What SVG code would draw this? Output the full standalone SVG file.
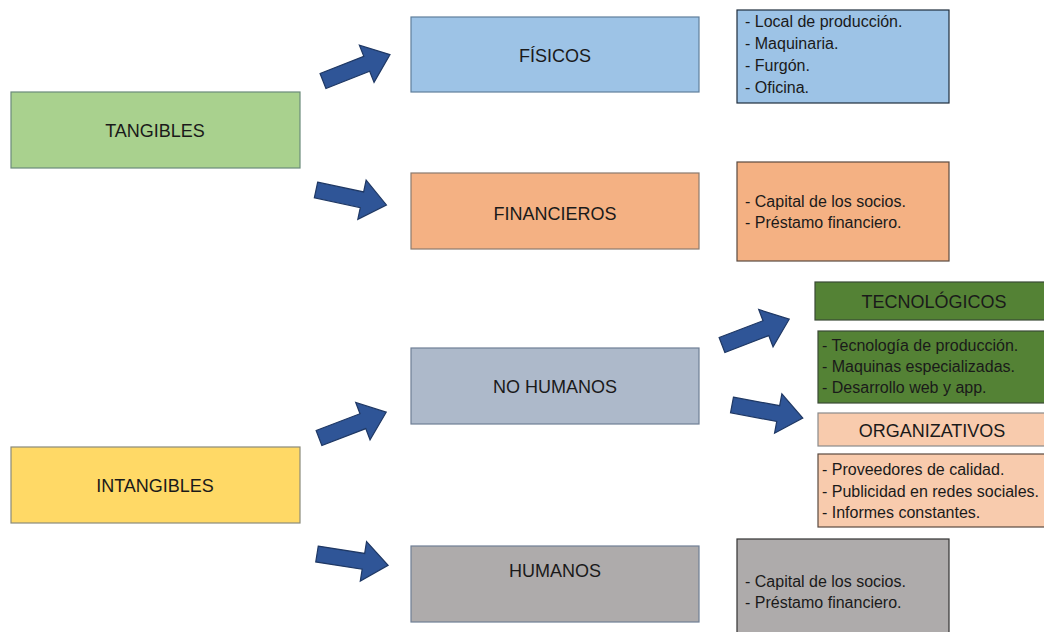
<svg xmlns="http://www.w3.org/2000/svg" width="1044" height="632" viewBox="0 0 1044 632">
<defs>
<style>
.t{font-family:"Liberation Sans",Arial,sans-serif;font-size:18px;fill:#1a1a1a;text-anchor:middle}
.d{font-family:"Liberation Sans",Arial,sans-serif;font-size:16px;fill:#1a1a1a}
.big{font-size:18px}
.box{stroke-width:1.2}
.arrow{fill:#2F5597;stroke:#1F3864;stroke-width:1.2;stroke-linejoin:miter}
</style>
<polygon id="arr" points="0,-8 47,-8 47,-20 72,0 47,20 47,8 0,8"/>
</defs>
<rect width="1044" height="632" fill="#ffffff"/>
<g id="tangibles"><rect class="box" x="11" y="92" width="289" height="76" fill="#A9D18E" stroke="#6b8a7a"/><text class="t" x="155" y="137">TANGIBLES</text></g>
<g id="intangibles"><rect class="box" x="11" y="447" width="289" height="76" fill="#FFD966" stroke="#8a8a7a"/><text class="t" x="155" y="492">INTANGIBLES</text></g>
<g id="fisicos"><rect class="box" x="411" y="17" width="288" height="75" fill="#9DC3E6" stroke="#5f7f9c"/><text class="t" x="555" y="62">FÍSICOS</text></g>
<g id="financieros"><rect class="box" x="411" y="173" width="288" height="76" fill="#F4B183" stroke="#8a7a6e"/><text class="t" x="555" y="220">FINANCIEROS</text></g>
<g id="nohumanos"><rect class="box" x="411" y="348" width="288" height="76" fill="#ADB9CA" stroke="#6f7f95"/><text class="t" x="555" y="393">NO HUMANOS</text></g>
<g id="humanos"><rect class="box" x="411" y="546" width="288" height="76" fill="#AEABAB" stroke="#6f7f95"/><text class="t" x="555" y="577">HUMANOS</text></g>
<g id="fisicos-detalle"><rect class="box" x="737" y="10" width="212" height="93" fill="#9DC3E6" stroke="#1f2d3d"/>
<text class="d" x="745" y="27">- Local de producción.</text>
<text class="d" x="745" y="49">- Maquinaria.</text>
<text class="d" x="745" y="71">- Furgón.</text>
<text class="d" x="745" y="93">- Oficina.</text></g>
<g id="financieros-detalle"><rect class="box" x="737" y="162" width="212" height="99" fill="#F4B183" stroke="#5a4a40"/>
<text class="d" x="745" y="207">- Capital de los socios.</text>
<text class="d" x="745" y="228">- Préstamo financiero.</text></g>
<g id="humanos-detalle"><rect class="box" x="737" y="539" width="212" height="100" fill="#AEABAB" stroke="#333333"/>
<text class="d" x="745" y="587">- Capital de los socios.</text>
<text class="d" x="745" y="608">- Préstamo financiero.</text></g>
<g id="tecnologicos"><rect class="box" x="815" y="282" width="235" height="38" fill="#548235" stroke="#3a4a35"/><text class="t big" x="934" y="308">TECNOLÓGICOS</text></g>
<g id="tecnologicos-detalle"><rect class="box" x="818" y="331" width="232" height="72" fill="#548235" stroke="#3a4a35"/>
<text class="d" x="822" y="351">- Tecnología de producción.</text>
<text class="d" x="822" y="372">- Maquinas especializadas.</text>
<text class="d" x="822" y="393">- Desarrollo web y app.</text></g>
<g id="organizativos"><rect class="box" x="818" y="413" width="232" height="33" fill="#F8CBAD" stroke="#8a8a8a"/><text class="t big" x="932" y="437">ORGANIZATIVOS</text></g>
<g id="organizativos-detalle"><rect class="box" x="818" y="454" width="232" height="73" fill="#F8CBAD" stroke="#5a4a40"/>
<text class="d" x="822" y="475">- Proveedores de calidad.</text>
<text class="d" x="822" y="497">- Publicidad en redes sociales.</text>
<text class="d" x="822" y="518">- Informes constantes.</text></g>
<g id="connectors">
<use href="#arr" class="arrow" transform="translate(323,81) rotate(-21.5)"/>
<use href="#arr" class="arrow" transform="translate(316,190) rotate(12)"/>
<use href="#arr" class="arrow" transform="translate(319,438) rotate(-21)"/>
<use href="#arr" class="arrow" transform="translate(317,554) rotate(9)"/>
<use href="#arr" class="arrow" transform="translate(722,345) rotate(-21)"/>
<use href="#arr" class="arrow" transform="translate(732,405) rotate(10.5)"/>
</g>
</svg>
